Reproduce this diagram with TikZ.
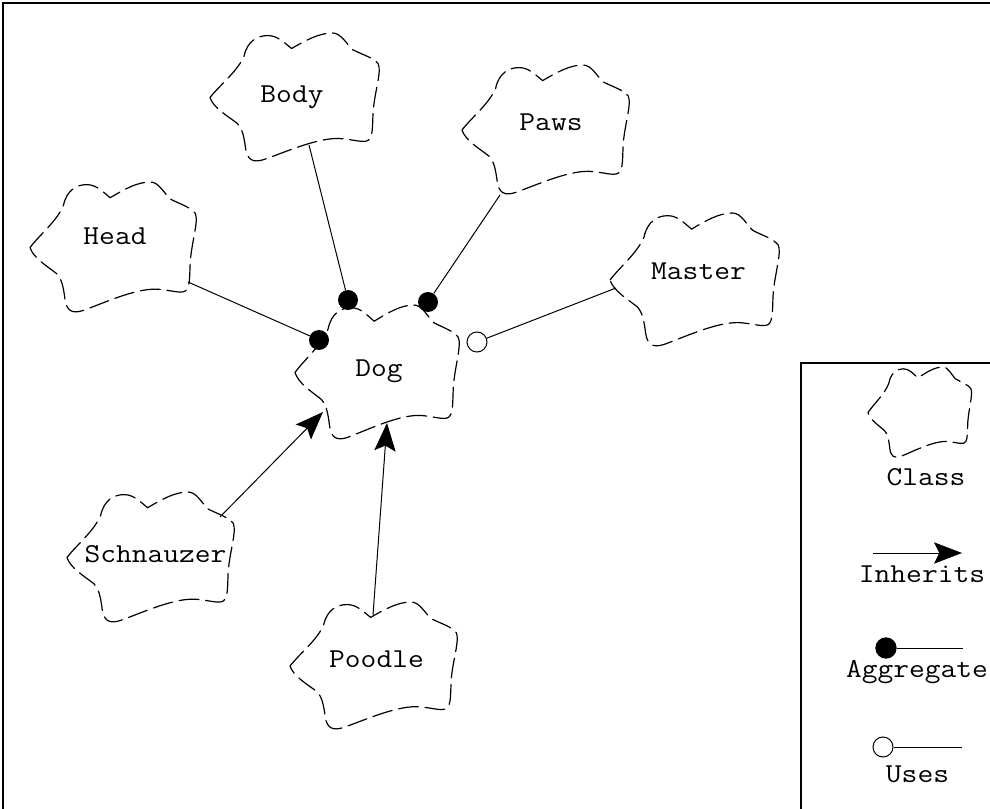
\documentclass[tikz,border=0pt]{standalone}
\usepackage{fontspec}
\usetikzlibrary{arrows.meta}
\newcommand\boochcloud[4]{%
  \draw[cloudline, shift={(#1,#2)}, xscale=#3, yscale=#4]
    (0,0.50) .. controls (0.06,0.40) and (0.16,0.30) .. (0.20,0.18)
    .. controls (0.22,0.06) and (0.28,0.02) .. (0.34,0.02)
    .. controls (0.40,0.02) and (0.44,0.08) .. (0.48,0.12)
    .. controls (0.56,0.06) and (0.64,0.00) .. (0.72,0.00)
    .. controls (0.77,0.00) and (0.80,0.08) .. (0.84,0.13)
    .. controls (0.90,0.17) and (0.96,0.19) .. (0.99,0.24)
    .. controls (1.01,0.30) and (0.97,0.45) .. (0.96,0.60)
    .. controls (0.955,0.70) and (0.96,0.78) .. (0.94,0.82)
    .. controls (0.92,0.86) and (0.86,0.83) .. (0.78,0.82)
    .. controls (0.65,0.80) and (0.45,0.92) .. (0.32,0.98)
    .. controls (0.25,1.01) and (0.22,0.98) .. (0.21,0.90)
    .. controls (0.20,0.80) and (0.19,0.74) .. (0.16,0.70)
    .. controls (0.10,0.64) and (0.02,0.58) .. (0,0.50) -- cycle;}
\newcommand\lbltext[1]{\scalebox{1.12}[1]{#1}}
\tikzset{
  cloudline/.style={line width=0.9pt, dash pattern=on 15pt off 5pt, line cap=round},
  lbl/.style={font=\fontsize{20.5}{24}\ttfamily\selectfont, inner sep=0pt, anchor=base},
  conn/.style={line width=0.75pt},
  frame/.style={line width=1pt},
  aggdot/.style={circle, fill=black, inner sep=0pt, minimum size=15pt},
  usesdot/.style={circle, draw=black, fill=white, line width=0.75pt, inner sep=0pt, minimum size=15pt},
  inh/.style={conn, -{Stealth[length=21pt, width=16pt, inset=4pt]}}
}
\begin{document}
\begin{tikzpicture}[x=0.75pt,y=-0.75pt]
\useasboundingbox (0,0) rectangle (990,809);
\clip (0,0) rectangle (990,809);
% frames
\draw[frame] (3,3) rectangle (1000,820);
\draw[frame] (801,363) rectangle (1000,820);

% clouds
\boochcloud{30}{182}{167}{131}
\boochcloud{210}{33}{170}{129}
\boochcloud{462}{65}{168}{130}
\boochcloud{610}{213}{170}{134}
\boochcloud{295}{305}{165}{135}
\boochcloud{67}{492}{168}{131}
\boochcloud{290}{602}{168}{128}
\boochcloud{868}{367}{104}{91}

% class names
\node[lbl] (dog) at (379,377) {\lbltext{Dog}};
\node[lbl] (head) at (115,245) {\lbltext{Head}};
\node[lbl] (body) at (292,103) {\lbltext{Body}};
\node[lbl] (paws) at (551,131) {\lbltext{Paws}};
\node[lbl] (master) at (698.5,280) {\lbltext{Master}};
\node[lbl] (schnauzer) at (155.5,562) {\lbltext{Schnauzer}};
\node[lbl] (poodle) at (376.5,667) {\lbltext{Poodle}};

% attachment points
\coordinate (headC) at (188,282);
\coordinate (bodyC) at (309,145);
\coordinate (pawsC) at (500,195);
\coordinate (masterC) at (616,288);
\coordinate (schC) at (220,517);
\coordinate (poodleC) at (373,615);
\coordinate (dogSW) at (323,412);
\coordinate (dogS) at (387,423);

\node[aggdot] (dotHead) at (319,340) {};
\node[aggdot] (dotBody) at (348,300) {};
\node[aggdot] (dotPaws) at (428,302) {};
\node[usesdot] (dotMaster) at (477,342) {};

\draw[conn] (headC) -- (dotHead);
\draw[conn] (bodyC) -- (dotBody);
\draw[conn] (pawsC) -- (dotPaws);
\draw[conn] (masterC) -- (dotMaster);
\draw[inh] (schC) -- (dogSW);
\draw[inh] (poodleC) -- (dogS);

% legend
\node[lbl] (lclass) at (926,485) {\lbltext{Class}};
\coordinate (inhA) at (873,553);
\coordinate (inhB) at (962,553);
\draw[inh] (inhA) -- (inhB);
\node[lbl] (linh) at (922,582) {\lbltext{Inherits}};
\node[aggdot, minimum size=16pt] (aggL) at (886,648) {};
\coordinate (aggE) at (963,648);
\draw[conn] (aggL) -- (aggE);
\node[lbl] (lagg) at (917,677) {\lbltext{Aggregate}};
\node[usesdot] (usesL) at (883,747) {};
\coordinate (usesE) at (962,747);
\draw[conn] (usesL) -- (usesE);
\node[lbl] (luses) at (917.5,782) {\lbltext{Uses}};
\end{tikzpicture}
\end{document}
